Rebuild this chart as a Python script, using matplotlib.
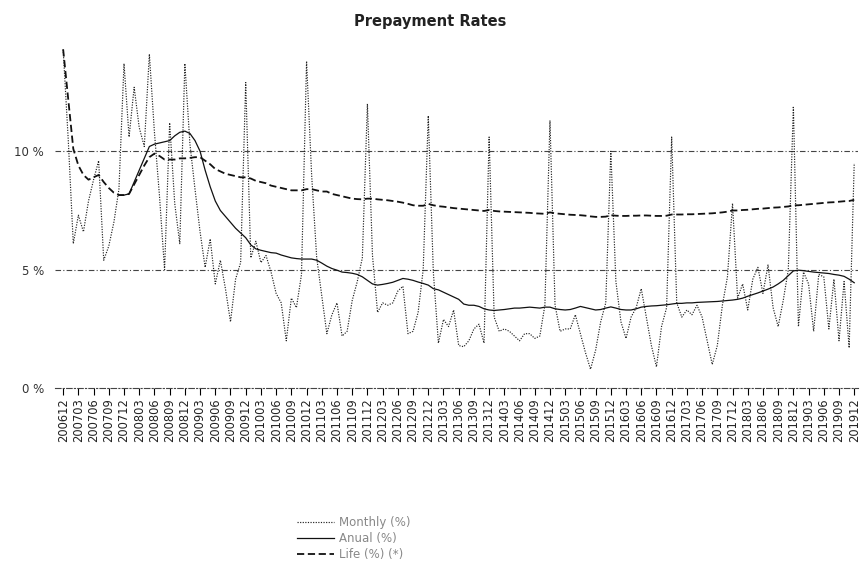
import numpy as np
import pandas as pd
import matplotlib
matplotlib.use("Agg")
import matplotlib.pyplot as plt

# Monthly periods, December 2006 to December 2019
periods = pd.period_range("2006-12", "2019-12", freq="M")
period_labels = [p.strftime("%Y%m") for p in periods]

# Monthly prepayment rate (%)
monthly = [
    14.3, 10.5, 6.1, 7.3, 6.6, 7.9, 8.8, 9.6, 5.4, 6.0, 7.0, 8.4,          # 2006-12 .. 2007-11
    13.7, 10.6, 12.7, 11.0, 10.2, 14.1, 10.8, 8.1, 5.0, 11.2, 7.8, 6.1,     # 2007-12 .. 2008-11
    13.7, 10.3, 8.4, 6.6, 5.1, 6.3, 4.4, 5.4, 4.2, 2.8, 4.6, 5.3,           # 2008-12 .. 2009-11
    12.9, 5.5, 6.2, 5.3, 5.6, 4.9, 4.0, 3.6, 2.0, 3.8, 3.4, 4.8,            # 2009-12 .. 2010-11
    13.8, 9.0, 5.5, 3.9, 2.3, 3.1, 3.6, 2.2, 2.4, 3.7, 4.5, 5.5,            # 2010-12 .. 2011-11
    12.0, 5.6, 3.2, 3.6, 3.5, 3.6, 4.1, 4.3, 2.3, 2.4, 3.2, 5.0,            # 2011-12 .. 2012-11
    11.5, 4.9, 1.9, 2.9, 2.6, 3.3, 1.8, 1.75, 2.0, 2.5, 2.7, 1.9,           # 2012-12 .. 2013-11
    10.6, 3.0, 2.4, 2.5, 2.4, 2.2, 2.0, 2.3, 2.3, 2.1, 2.2, 3.5,            # 2013-12 .. 2014-11
    11.3, 3.5, 2.4, 2.5, 2.5, 3.1, 2.3, 1.5, 0.8, 1.6, 2.8, 3.6,            # 2014-12 .. 2015-11
    10.0, 4.5, 2.8, 2.1, 3.0, 3.4, 4.2, 3.0, 1.8, 0.9, 2.6, 3.4,            # 2015-12 .. 2016-11
    10.6, 3.6, 3.0, 3.3, 3.1, 3.5, 3.0, 2.0, 1.0, 1.8, 3.5, 4.7,            # 2016-12 .. 2017-11
    7.8, 3.8, 4.4, 3.3, 4.6, 5.1, 4.0, 5.2, 3.4, 2.6, 3.7, 5.0,             # 2017-12 .. 2018-11
    11.9, 2.6, 4.9, 4.4, 2.4, 4.8, 4.7, 2.5, 4.6, 2.0, 4.5, 1.7,            # 2018-12 .. 2019-11
    9.5,                                                                     # 2019-12
]

# Trailing twelve-month rate (%), available from 2007-11
annual = [
    np.nan, np.nan, np.nan, np.nan, np.nan, np.nan,
    np.nan, np.nan, np.nan, np.nan, np.nan, 8.15,
    8.15, 8.2, 8.7, 9.2, 9.7, 10.2, 10.3, 10.35, 10.4, 10.45, 10.65, 10.8,
    10.85, 10.75, 10.45, 10.0, 9.2, 8.5, 7.9, 7.5, 7.25, 7.0, 6.75, 6.55,
    6.35, 6.05, 5.88, 5.82, 5.77, 5.72, 5.7, 5.62, 5.56, 5.5, 5.47, 5.45,
    5.45, 5.45, 5.4, 5.28, 5.15, 5.05, 4.98, 4.9, 4.88, 4.85, 4.8, 4.7,
    4.55, 4.4, 4.35, 4.38, 4.42, 4.47, 4.55, 4.63, 4.6, 4.55, 4.48, 4.42,
    4.35, 4.2, 4.15, 4.05, 3.95, 3.85, 3.75, 3.55, 3.5, 3.5, 3.45, 3.35,
    3.3, 3.28, 3.3, 3.32, 3.35, 3.38, 3.38, 3.4, 3.42, 3.4, 3.38, 3.42,
    3.42, 3.35, 3.32, 3.3, 3.32, 3.38, 3.45, 3.4, 3.35, 3.3, 3.32, 3.38,
    3.43, 3.38, 3.32, 3.3, 3.3, 3.35, 3.42, 3.45, 3.47, 3.48, 3.5, 3.52,
    3.55, 3.58, 3.58, 3.6, 3.6, 3.62, 3.63, 3.64, 3.65, 3.66, 3.68, 3.7,
    3.72, 3.75, 3.8, 3.88, 3.95, 4.02, 4.1, 4.18, 4.27, 4.4, 4.55, 4.75,
    4.95, 4.98, 4.96, 4.93, 4.9, 4.88, 4.86, 4.84, 4.8, 4.77, 4.72, 4.6,
    4.45,
]

# Rate since origination of the pool (%)
life = [
    14.3, 12.2, 10.1, 9.4, 9.0, 8.8, 8.9, 9.0, 8.7, 8.45, 8.25, 8.15,
    8.15, 8.2, 8.6, 9.0, 9.4, 9.75, 9.9, 9.8, 9.65, 9.65, 9.65, 9.7,
    9.7, 9.72, 9.75, 9.75, 9.6, 9.45, 9.25, 9.15, 9.05, 9.0, 8.95, 8.9,
    8.9, 8.85, 8.75, 8.7, 8.65, 8.55, 8.5, 8.45, 8.4, 8.35, 8.35, 8.35,
    8.4, 8.4, 8.35, 8.3, 8.3, 8.2, 8.15, 8.1, 8.05, 8.0, 7.98, 7.97,
    8.0, 8.0, 7.97, 7.95, 7.93, 7.9, 7.87, 7.83, 7.78, 7.72, 7.7, 7.7,
    7.78, 7.72, 7.68, 7.66, 7.63, 7.6, 7.58, 7.56, 7.54, 7.52, 7.5, 7.48,
    7.52, 7.48, 7.46, 7.45, 7.44, 7.43, 7.42, 7.41, 7.4, 7.38, 7.37, 7.36,
    7.42, 7.38, 7.36, 7.34, 7.32, 7.31, 7.3, 7.28, 7.25, 7.23, 7.23, 7.24,
    7.3, 7.28, 7.27, 7.27, 7.28, 7.28, 7.29, 7.29, 7.28, 7.27, 7.27, 7.28,
    7.33, 7.33, 7.33, 7.34, 7.34, 7.35, 7.36, 7.37, 7.38, 7.4, 7.42, 7.45,
    7.5, 7.5, 7.52, 7.53, 7.55, 7.57, 7.58, 7.6, 7.62, 7.63, 7.65, 7.67,
    7.72, 7.72, 7.74, 7.76, 7.78, 7.8, 7.82, 7.84, 7.85, 7.87, 7.89, 7.9,
    7.95,
]

series_labels = ["Monthly (%)", "Anual (%)", "Life (%) (*)"]
y_ticks = [0, 5, 10]
y_tick_labels = ["0 %", "5 %", "10 %"]

assert len(monthly) == len(periods) == len(annual) == len(life)

x = np.arange(len(periods))

fig = plt.figure(figsize=(8.6, 5.7), dpi=100)
ax = fig.add_axes([0.064, 0.319, 0.934, 0.611])

ax.plot(x, monthly, color="#222222", linestyle=(0, (1, 1.2)), linewidth=0.85,
        label=series_labels[0])
ax.plot(x, annual, color="#111111", linestyle="-", linewidth=0.9,
        label=series_labels[1])
ax.plot(x, life, color="#111111", linestyle=(0, (4, 2)), linewidth=1.3,
        label=series_labels[2])

# Horizontal reference lines
for yv in y_ticks[1:]:
    ax.axhline(yv, color="#444444", linestyle=(0, (5, 2, 1, 2)), linewidth=0.8,
               zorder=0)

ax.set_xlim(-1.6, len(periods) - 0.2)
ax.set_ylim(0, 14.7)

ax.set_yticks(y_ticks)
ax.set_yticklabels(y_tick_labels, fontsize=8.5, color="#333333")
ax.tick_params(axis="y", length=0, pad=8)

tick_idx = x[::3]
ax.set_xticks(tick_idx)
ax.set_xticklabels([period_labels[i] for i in tick_idx], rotation=90,
                   fontsize=8.3, color="#222222")
ax.tick_params(axis="x", direction="out", length=5, width=0.8, pad=2)

for side in ["top", "right", "left"]:
    ax.spines[side].set_visible(False)
ax.spines["bottom"].set_linestyle((0, (5, 2, 1, 2)))
ax.spines["bottom"].set_linewidth(0.8)
ax.spines["bottom"].set_color("#444444")

fig.text(0.5, 0.963, "Prepayment Rates", ha="center", va="center",
         fontsize=10.5, fontweight="bold", color="#222222")

leg = fig.legend(loc="upper left", bbox_to_anchor=(0.345, 0.095),
                 bbox_transform=fig.transFigure,
                 frameon=False, fontsize=8.5, handlelength=3.2,
                 labelspacing=0.25, handletextpad=0.4, borderaxespad=0,
                 borderpad=0)
for t in leg.get_texts():
    t.set_color("#888888")

fig.savefig("out.png", dpi=100)
